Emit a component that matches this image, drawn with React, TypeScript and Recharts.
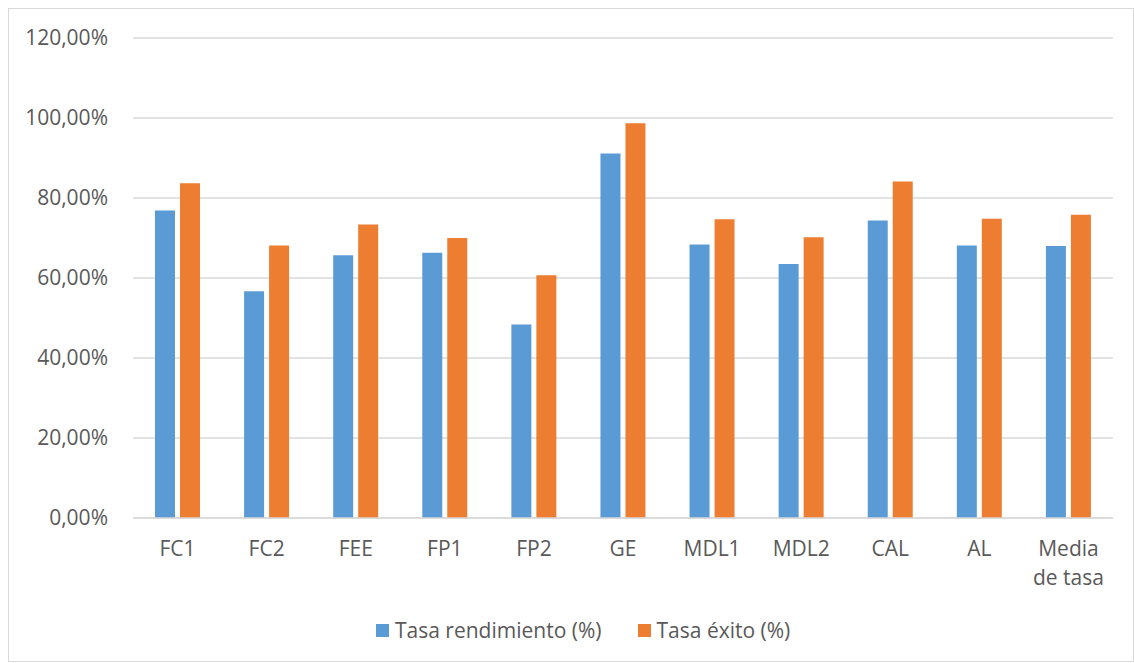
import { BarChart, Bar, XAxis, YAxis, CartesianGrid } from 'recharts'

const CATEGORIES = ['FC1', 'FC2', 'FEE', 'FP1', 'FP2', 'GE', 'MDL1', 'MDL2', 'CAL', 'AL', 'Media de tasa']
const RENDIMIENTO = [0.769, 0.567, 0.657, 0.663, 0.484, 0.911, 0.684, 0.635, 0.744, 0.681, 0.68]
const EXITO = [0.837, 0.681, 0.734, 0.70, 0.607, 0.987, 0.747, 0.702, 0.841, 0.748, 0.758]
const Y_TICKS = [0, 0.2, 0.4, 0.6, 0.8, 1.0, 1.2]
const SERIES = [
  { key: 'rendimiento', name: 'Tasa rendimiento (%)', color: '#5b9bd5' },
  { key: 'exito', name: 'Tasa éxito (%)', color: '#ed7d31' },
]

const data = CATEGORIES.map((c, i) => ({ cat: c, rendimiento: RENDIMIENTO[i], exito: EXITO[i] }))

const FONT = '"Open Sans", sans-serif'
const TEXT = '#595959'
const FS = 21

const fmtPct = (v: number) => (v * 100).toFixed(2).replace('.', ',') + '%'

const CatTick = (props: any) => {
  const { x, y, payload } = props
  const words = String(payload.value).split(' ')
  const lines = words.length > 2 ? [words[0], words.slice(1).join(' ')] : [payload.value]
  return (
    <text x={x} y={y + 38} textAnchor="middle" fill={TEXT} fontSize={FS} fontFamily={FONT}>
      {lines.map((l: string, i: number) => (
        <tspan key={i} x={x} dy={i === 0 ? 0 : 28.5}>{l}</tspan>
      ))}
    </text>
  )
}

export default function App() {
  return (
    <div style={{ position: 'absolute', left: 0, top: 0, width: 1134, height: 663, background: '#fff' }}>
      <div style={{ position: 'absolute', left: 8, top: 8, width: 1124, height: 652, border: '1px solid #d9d9d9' }} />
      <BarChart
        width={1134}
        height={663}
        data={data}
        margin={{ top: 38, right: 21, left: 8, bottom: 75 }}
        barSize={20}
        barGap={5}
        style={{ position: 'absolute', left: 0, top: 0 }}
      >
        <CartesianGrid vertical={false} stroke="#d9d9d9" strokeWidth={1.3} />
        <XAxis
          dataKey="cat"
          height={70}
          interval={0}
          tickLine={false}
          tickSize={0}
          tickMargin={0}
          axisLine={{ stroke: '#d9d9d9', strokeWidth: 1.3 }}
          tick={<CatTick />}
        />
        <YAxis
          width={125}
          domain={[0, 1.2]}
          ticks={Y_TICKS}
          axisLine={false}
          tickLine={false}
          tickSize={0}
          tickMargin={25}
          tickFormatter={fmtPct}
          tick={{ fill: TEXT, fontSize: FS, fontFamily: FONT }}
        />
        {SERIES.map(s => (
          <Bar key={s.key} dataKey={s.key} name={s.name} fill={s.color} isAnimationActive={false} />
        ))}
      </BarChart>
      <div style={{ position: 'absolute', left: 376, top: 616, display: 'flex', alignItems: 'center', fontFamily: FONT, fontSize: FS, color: TEXT, whiteSpace: 'nowrap' }}>
        {SERIES.map((s, i) => (
          <div key={s.key} style={{ display: 'flex', alignItems: 'center', marginLeft: i === 0 ? 0 : 36 }}>
            <span style={{ display: 'inline-block', width: 13, height: 13, background: s.color, marginRight: 6 }} />
            <span>{s.name}</span>
          </div>
        ))}
      </div>
    </div>
  )
}
